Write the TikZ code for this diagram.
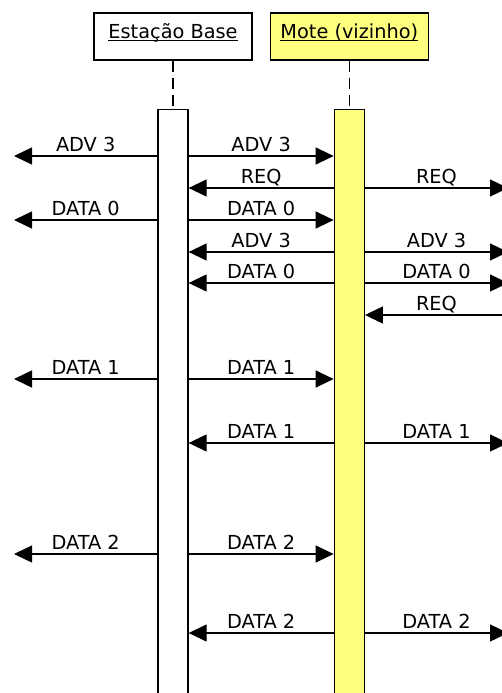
\documentclass[tikz,border=0pt]{standalone}
\usepackage{fontspec}
\setmainfont{DejaVu Sans}
\usepackage{xcolor}
\usetikzlibrary{arrows.meta,positioning}

\definecolor{moteyellow}{RGB}{255,255,128}
% underline close to the baseline, as in the reference
\newcommand\headtext[1]{\setbox0\hbox{#1}\rlap{\rule[-1.6pt]{\wd0}{0.9pt}}\box0}

\begin{document}
\begin{tikzpicture}[
    x=1pt, y=-1pt,
    font=\fontsize{19.3}{22}\selectfont,
    actor/.style={rectangle, draw, line width=1.3pt, minimum width=158pt, inner sep=0pt, text height=26pt, text depth=21pt},
    bar/.style={rectangle, draw, line width=1.3pt, minimum width=30pt, minimum height=600pt, inner sep=0pt},
    life/.style={line width=1.3pt, dash pattern=on 11pt off 6pt},
    msg/.style={-{Triangle[length=18pt,width=17pt]}, line width=1.3pt},
    lbl/.style={anchor=base, yshift=5pt, inner sep=0pt}
]
    \useasboundingbox (0,0) rectangle (502,693);

    % participants
    \node[actor] (base) at (173,36.5) {\headtext{Estação Base}};
    \node[actor, fill=moteyellow, right=17pt of base] (mote) {\headtext{Mote (vizinho)}};
    \node[bar, below=48pt of base] (baseBar) {};
    \node[bar, fill=moteyellow, below=48pt of mote] (moteBar) {};
    \draw[life] (base) -- (baseBar);
    \draw[life] (mote) -- (moteBar);

    % message rows and free ends
    \coordinate (lftEnd) at (14,0);
    \coordinate (rgtEnd) at (508,0);
    \foreach \n/\y in {1/156,2/188,3/220,4/252,5/283,6/315,7/379,8/443,9/554,10/633}
        \coordinate (r\n) at (0,\y);

    \draw[msg] (baseBar.west |- r1) -- node[lbl] {ADV 3} (lftEnd |- r1);
    \draw[msg] (baseBar.east |- r1) -- node[lbl] {ADV 3} (moteBar.west |- r1);

    \draw[msg] (moteBar.west |- r2) -- node[lbl] {REQ} (baseBar.east |- r2);
    \draw[msg] (moteBar.east |- r2) -- node[lbl] {REQ} (rgtEnd |- r2);

    \draw[msg] (baseBar.west |- r3) -- node[lbl] {DATA 0} (lftEnd |- r3);
    \draw[msg] (baseBar.east |- r3) -- node[lbl] {DATA 0} (moteBar.west |- r3);

    \draw[msg] (moteBar.west |- r4) -- node[lbl] {ADV 3} (baseBar.east |- r4);
    \draw[msg] (moteBar.east |- r4) -- node[lbl] {ADV 3} (rgtEnd |- r4);

    \draw[msg] (moteBar.west |- r5) -- node[lbl] {DATA 0} (baseBar.east |- r5);
    \draw[msg] (moteBar.east |- r5) -- node[lbl] {DATA 0} (rgtEnd |- r5);

    \draw[msg] (rgtEnd |- r6) -- node[lbl] {REQ} (moteBar.east |- r6);

    \draw[msg] (baseBar.west |- r7) -- node[lbl] {DATA 1} (lftEnd |- r7);
    \draw[msg] (baseBar.east |- r7) -- node[lbl] {DATA 1} (moteBar.west |- r7);

    \draw[msg] (moteBar.west |- r8) -- node[lbl] {DATA 1} (baseBar.east |- r8);
    \draw[msg] (moteBar.east |- r8) -- node[lbl] {DATA 1} (rgtEnd |- r8);

    \draw[msg] (baseBar.west |- r9) -- node[lbl] {DATA 2} (lftEnd |- r9);
    \draw[msg] (baseBar.east |- r9) -- node[lbl] {DATA 2} (moteBar.west |- r9);

    \draw[msg] (moteBar.west |- r10) -- node[lbl] {DATA 2} (baseBar.east |- r10);
    \draw[msg] (moteBar.east |- r10) -- node[lbl] {DATA 2} (rgtEnd |- r10);
\end{tikzpicture}
\end{document}
